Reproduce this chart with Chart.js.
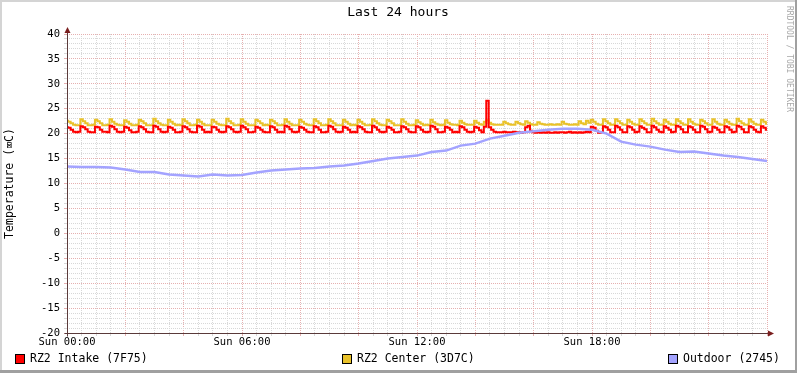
<!DOCTYPE html>
<html>
<head>
<meta charset="utf-8">
<script src="https://cdn.jsdelivr.net/npm/chart.js@4.4.1/dist/chart.umd.min.js"></script>
<style>
  html, body { margin: 0; padding: 0; background: #fff; }
  canvas { display: block; }
</style>
</head>
<body>
<canvas id="rrd" width="797" height="373"></canvas>
<script>
// samples every 5 minutes, 00:00 .. 24:00 (one row per hour)
const sampleStepH = 1 / 12;
const intake = [
  21.3, 21.2, 20.8, 20.4, 20.3, 20.4, 21.5, 21.3, 20.9, 20.4, 20.3, 20.3,
  21.4, 21.3, 20.8, 20.4, 20.4, 20.3, 21.6, 21.4, 20.9, 20.4, 20.3, 20.4,
  21.4, 21.2, 20.7, 20.3, 20.3, 20.4, 21.5, 21.3, 20.9, 20.4, 20.3, 20.3,
  21.6, 21.4, 20.9, 20.4, 20.3, 20.4, 21.4, 21.2, 20.8, 20.3, 20.3, 20.4,
  21.5, 21.3, 20.9, 20.4, 20.3, 20.3, 21.6, 21.4, 20.8, 20.3, 20.4, 20.3,
  21.4, 21.3, 20.8, 20.4, 20.3, 20.4, 21.5, 21.3, 20.9, 20.4, 20.3, 20.4,
  21.6, 21.3, 20.9, 20.3, 20.3, 20.4, 21.4, 21.2, 20.8, 20.4, 20.3, 20.3,
  21.5, 21.3, 20.8, 20.3, 20.4, 20.3, 21.6, 21.4, 20.9, 20.4, 20.3, 20.4,
  21.4, 21.2, 20.8, 20.4, 20.3, 20.3, 21.5, 21.3, 20.8, 20.3, 20.3, 20.4,
  21.6, 21.4, 20.9, 20.4, 20.3, 20.4, 21.4, 21.2, 20.8, 20.3, 20.4, 20.3,
  21.5, 21.3, 20.9, 20.4, 20.3, 20.3, 21.6, 21.3, 20.8, 20.4, 20.3, 20.4,
  21.4, 21.2, 20.8, 20.3, 20.3, 20.4, 21.5, 21.3, 20.9, 20.4, 20.3, 20.3,
  21.5, 21.3, 20.8, 20.4, 20.3, 20.4, 21.6, 21.4, 20.9, 20.3, 20.3, 20.4,
  21.4, 21.2, 20.8, 20.3, 20.4, 20.3, 21.5, 21.3, 20.8, 20.4, 20.3, 20.4,
  21.4, 21.2, 20.7, 20.3, 21.4, 26.6, 21.3, 20.8, 20.4, 20.3, 20.3, 20.3,
  20.4, 20.3, 20.3, 20.3, 20.4, 20.3, 20.3, 20.2, 20.3, 21.3, 21.6, 20.6,
  20.3, 20.2, 20.3, 20.2, 20.3, 20.2, 20.3, 20.2, 20.2, 20.3, 20.2, 20.3,
  20.3, 20.2, 20.3, 20.4, 20.2, 20.3, 20.2, 20.3, 20.2, 20.3, 20.4, 20.3,
  21.4, 21.2, 20.6, 20.2, 20.3, 21.5, 21.3, 20.8, 20.3, 20.3, 21.6, 21.3,
  20.8, 20.3, 20.3, 21.5, 21.3, 20.8, 20.3, 20.4, 21.5, 21.2, 20.9, 20.3,
  20.3, 21.6, 21.3, 20.8, 20.4, 20.3, 21.5, 21.2, 20.8, 20.3, 20.4, 21.6,
  21.4, 20.9, 20.3, 20.3, 21.5, 21.3, 20.8, 20.3, 20.3, 21.6, 21.4, 20.9,
  20.3, 20.4, 21.4, 21.2, 20.8, 20.3, 20.3, 21.5, 21.3, 20.8, 20.3, 20.4,
  21.6, 21.4, 20.9, 20.3, 20.3, 21.5, 21.3, 20.8, 20.4, 20.3, 21.5, 21.2,
  20.8
];
const center = [
  22.6, 22.4, 22.1, 21.8, 21.7, 21.7, 22.9, 22.5, 22.1, 21.7, 21.7, 21.8,
  22.8, 22.5, 22.1, 21.7, 21.7, 21.8, 22.9, 22.4, 22.0, 21.8, 21.7, 21.7,
  22.7, 22.4, 22.0, 21.7, 21.7, 21.8, 22.8, 22.5, 22.1, 21.7, 21.7, 21.7,
  23.0, 22.5, 22.1, 21.8, 21.7, 21.7, 22.8, 22.4, 22.0, 21.7, 21.8, 21.7,
  22.9, 22.5, 22.1, 21.7, 21.7, 21.8, 22.8, 22.4, 22.0, 21.7, 21.7, 21.7,
  22.8, 22.4, 22.0, 21.8, 21.7, 21.7, 23.0, 22.5, 22.1, 21.7, 21.7, 21.8,
  22.9, 22.4, 22.0, 21.7, 21.7, 21.7, 22.8, 22.5, 22.1, 21.7, 21.8, 21.7,
  22.8, 22.5, 22.1, 21.7, 21.7, 21.8, 22.9, 22.4, 22.0, 21.7, 21.7, 21.7,
  22.8, 22.4, 22.0, 21.8, 21.7, 21.7, 22.9, 22.5, 22.1, 21.7, 21.7, 21.8,
  22.9, 22.5, 22.1, 21.7, 21.7, 21.7, 22.8, 22.4, 22.0, 21.7, 21.8, 21.7,
  22.8, 22.4, 22.0, 21.7, 21.7, 21.8, 22.9, 22.5, 22.1, 21.8, 21.7, 21.7,
  22.8, 22.5, 22.1, 21.7, 21.7, 21.7, 22.9, 22.4, 22.0, 21.7, 21.7, 21.8,
  22.7, 22.3, 22.0, 21.7, 21.8, 21.7, 22.8, 22.3, 22.0, 21.8, 21.7, 21.8,
  22.7, 22.2, 21.9, 21.8, 21.8, 21.7, 22.6, 22.2, 21.9, 21.8, 21.8, 21.8,
  22.6, 22.2, 21.9, 21.8, 22.4, 22.7, 22.2, 21.9, 21.8, 21.8, 21.8, 21.8,
  22.4, 22.1, 21.9, 21.8, 21.8, 22.4, 22.1, 21.9, 21.8, 22.5, 22.2, 21.9,
  21.8, 21.8, 22.3, 22.0, 21.9, 21.8, 21.8, 21.9, 21.8, 21.8, 21.9, 21.8,
  22.4, 22.0, 21.9, 21.8, 21.8, 21.9, 21.8, 22.5, 22.1, 21.9, 22.6, 22.2,
  22.8, 22.4, 22.0, 21.8, 21.8, 22.9, 22.5, 22.1, 21.8, 21.8, 22.9, 22.5,
  22.1, 21.8, 21.8, 22.8, 22.4, 22.0, 21.8, 21.8, 22.9, 22.5, 22.1, 21.8,
  21.8, 23.0, 22.5, 22.1, 21.8, 21.8, 22.8, 22.4, 22.0, 21.8, 21.8, 22.9,
  22.5, 22.1, 21.8, 21.8, 22.9, 22.4, 22.0, 21.8, 21.8, 22.8, 22.5, 22.1,
  21.8, 21.8, 22.9, 22.4, 22.0, 21.8, 21.8, 22.8, 22.4, 22.0, 21.8, 21.8,
  23.0, 22.5, 22.1, 21.8, 21.8, 22.9, 22.4, 22.0, 21.8, 21.8, 22.8, 22.4,
  22.0
];
// outdoor sampled every 30 minutes
const outdoorStepH = 0.5;
const outdoor = [
  13.4, 13.3, 13.3, 13.2, 12.8, 12.3, 12.3, 11.8, 11.6, 11.4,
  11.8, 11.6, 11.7, 12.2, 12.6, 12.8, 13.0, 13.1, 13.4, 13.6,
  14.0, 14.5, 15.0, 15.3, 15.6, 16.3, 16.6, 17.6, 18.0, 19.0,
  19.6, 20.2, 20.5, 20.8, 21.0, 21.0, 20.8, 20.0, 18.4, 17.8,
  17.4, 16.8, 16.3, 16.4, 16.0, 15.6, 15.3, 14.9, 14.5
];
const xLabels = { 0: 'Sun 00:00', 6: 'Sun 06:00', 12: 'Sun 12:00', 18: 'Sun 18:00' };
const yMin = -20, yMax = 40;
const legendItems = [
  { label: 'RZ2 Intake (7F75)', color: '#ff0000', x: 15 },
  { label: 'RZ2 Center (3D7C)', color: '#e9c22a', x: 342 },
  { label: 'Outdoor (2745)', color: '#a3a3ff', x: 668 }
];

const FONT = '"DejaVu Sans Mono", monospace';
const majorGrid = '#e6b0b0';
const minorGrid = '#d8d8d8';

const rrdDecor = {
  id: 'rrdDecor',
  afterDraw(chart) {
    const c = chart.ctx;
    const area = chart.chartArea;
    c.save();

    // frame
    c.fillStyle = '#d4d4d4';
    c.fillRect(0, 0, 797, 2);
    c.fillRect(0, 0, 2, 373);
    c.fillStyle = '#a0a0a0';
    c.fillRect(0, 370, 797, 3);
    c.fillRect(795, 0, 2, 373);

    // axes with arrows
    const ax = area.left + 0.5, ay = area.bottom + 0.5;
    c.strokeStyle = '#5a3a3a';
    c.lineWidth = 1;
    c.beginPath();
    c.moveTo(ax, ay + 3); c.lineTo(ax, area.top - 4);
    c.moveTo(ax - 3, ay); c.lineTo(area.right + 3, ay);
    c.stroke();
    c.fillStyle = '#7a1e1e';
    c.beginPath();
    c.moveTo(ax - 3, area.top - 1); c.lineTo(ax + 3, area.top - 1); c.lineTo(ax, area.top - 7);
    c.closePath(); c.fill();
    c.beginPath();
    c.moveTo(area.right + 1, ay - 3); c.lineTo(area.right + 1, ay + 3); c.lineTo(area.right + 7, ay);
    c.closePath(); c.fill();

    // title
    c.fillStyle = '#000';
    c.textAlign = 'center';
    c.textBaseline = 'middle';
    c.font = '13px ' + FONT;
    c.fillText('Last 24 hours', 398, 13);

    // y axis title
    c.save();
    c.translate(10, (area.top + area.bottom) / 2);
    c.rotate(-Math.PI / 2);
    c.font = '11.5px ' + FONT;
    c.fillText('Temperature (\u2327C)', 0, 0);
    c.restore();

    // watermark
    c.save();
    c.translate(789, 6);
    c.rotate(Math.PI / 2);
    c.textAlign = 'left';
    c.fillStyle = '#a8a8a8';
    c.font = '8px ' + FONT;
    c.fillText('RRDTOOL / TOBI OETIKER', 0, 0);
    c.restore();

    // legend
    c.font = '11.5px ' + FONT;
    c.textAlign = 'left';
    legendItems.forEach(it => {
      c.fillStyle = it.color;
      c.fillRect(it.x, 354, 9, 9);
      c.strokeStyle = '#000';
      c.strokeRect(it.x + 0.5, 354.5, 9, 9);
      c.fillStyle = '#000';
      c.fillText(it.label, it.x + 15, 359);
    });
    c.restore();
  }
};

const gridColor = (mod) => (ctx) => (ctx.tick && Math.abs(ctx.tick.value % mod) < 1e-6 ? majorGrid : minorGrid);

new Chart(document.getElementById('rrd').getContext('2d'), {
  type: 'line',
  data: {
    datasets: [
      {
        label: 'Outdoor (2745)',
        data: outdoor.map((v, i) => ({ x: i * outdoorStepH, y: v })),
        borderColor: '#a3a3ff',
        borderWidth: 2.5,
        pointRadius: 0,
        tension: 0
      },
      {
        label: 'RZ2 Intake (7F75)',
        data: intake.map((v, i) => ({ x: i * sampleStepH, y: v })),
        borderColor: '#ff0000',
        borderWidth: 2,
        pointRadius: 0,
        stepped: 'middle'
      },
      {
        label: 'RZ2 Center (3D7C)',
        data: center.map((v, i) => ({ x: i * sampleStepH, y: v })),
        borderColor: '#e9c22a',
        borderWidth: 2,
        pointRadius: 0,
        stepped: 'middle'
      }
    ]
  },
  options: {
    responsive: false,
    animation: false,
    devicePixelRatio: 1,
    layout: { padding: { top: 34, right: 30, left: 0, bottom: 0 } },
    plugins: {
      legend: { display: false },
      title: { display: false },
      tooltip: { enabled: false }
    },
    scales: {
      x: {
        type: 'linear',
        min: 0,
        max: 24,
        afterFit: (s) => { s.height = 40; },
        border: { display: false, dash: [1, 1] },
        grid: { color: gridColor(2), tickColor: gridColor(2), tickLength: 3, lineWidth: 1 },
        ticks: {
          stepSize: 0.5,
          autoSkip: false,
          maxRotation: 0,
          padding: 0,
          color: '#000',
          font: { family: FONT, size: 10.5 },
          callback: (v) => xLabels[v] || ''
        }
      },
      y: {
        type: 'linear',
        min: yMin,
        max: yMax,
        afterFit: (s) => { s.width = 67; },
        border: { display: false, dash: [1, 1] },
        grid: { color: gridColor(5), tickColor: gridColor(5), tickLength: 3, lineWidth: 1 },
        ticks: {
          stepSize: 1,
          autoSkip: false,
          padding: 4,
          color: '#000',
          font: { family: FONT, size: 10.5 },
          callback: (v) => (v % 5 === 0 ? String(v) : '')
        }
      }
    }
  },
  plugins: [rrdDecor]
});
</script>
</body>
</html>
